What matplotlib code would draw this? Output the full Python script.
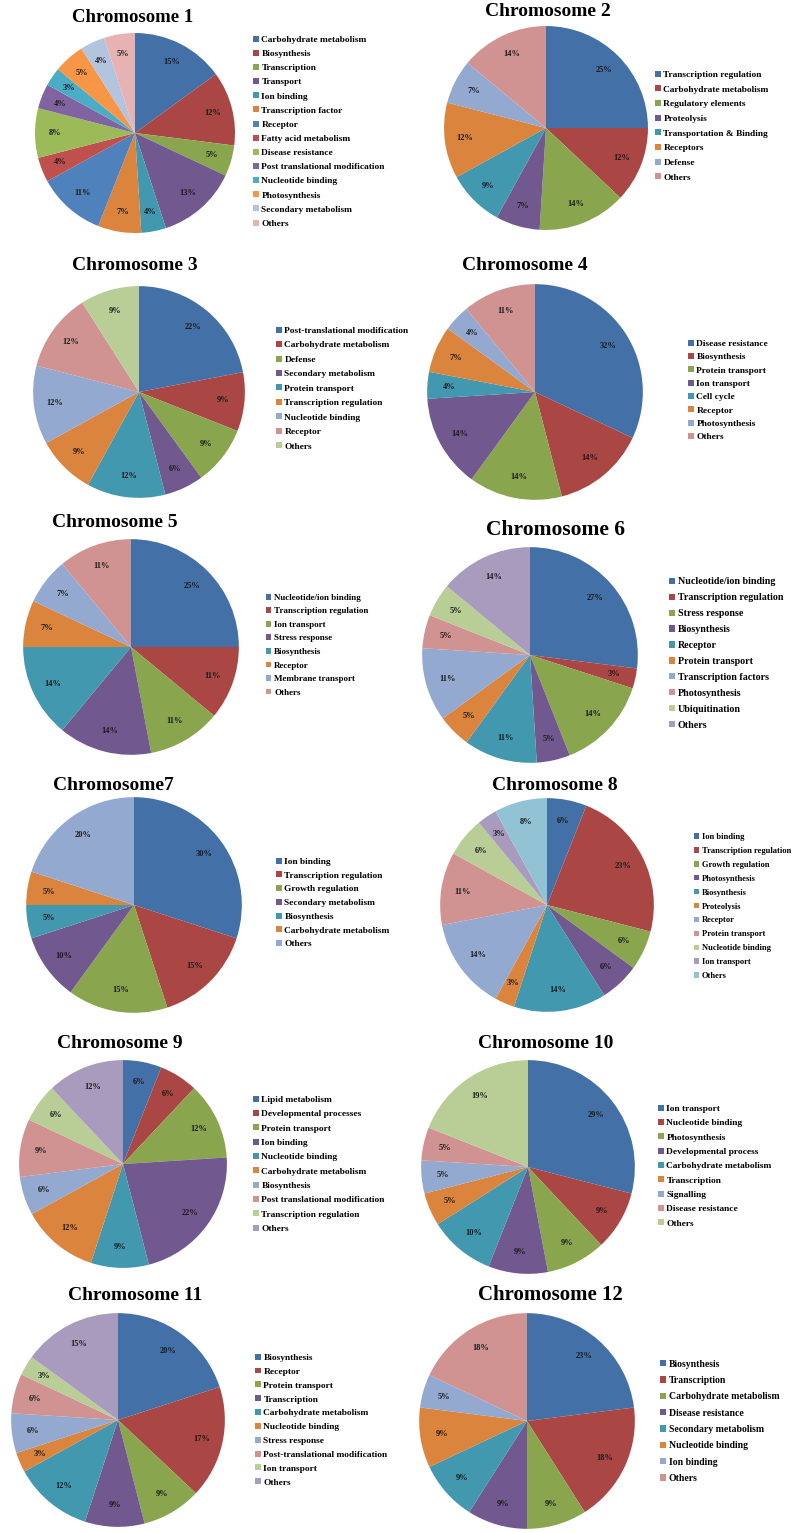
import matplotlib as mpl
import matplotlib.pyplot as plt

mpl.rcParams.update({
    "font.family": ["Liberation Serif", "DejaVu Serif"],
    "font.weight": "bold",
})

W, H = 793, 1533

# ---- data -------------------------------------------------------------
chr1_labels = ["Carbohydrate metabolism", "Biosynthesis", "Transcription", "Transport",
               "Ion binding", "Transcription factor", "Receptor", "Fatty acid metabolism",
               "Disease resistance", "Post translational modification", "Nucleotide binding",
               "Photosynthesis", "Secondary metabolism", "Others"]
chr1_values = [15, 12, 5, 13, 4, 7, 11, 4, 8, 4, 3, 5, 4, 5]

chr2_labels = ["Transcription regulation", "Carbohydrate metabolism", "Regulatory elements",
               "Proteolysis", "Transportation & Binding", "Receptors", "Defense", "Others"]
chr2_values = [25, 12, 14, 7, 9, 12, 7, 14]

chr3_labels = ["Post-translational modification", "Carbohydrate metabolism", "Defense",
               "Secondary metabolism", "Protein transport", "Transcription regulation",
               "Nucleotide binding", "Receptor", "Others"]
chr3_values = [22, 9, 9, 6, 12, 9, 12, 12, 9]

chr4_labels = ["Disease resistance", "Biosynthesis", "Protein transport", "Ion transport",
               "Cell cycle", "Receptor", "Photosynthesis", "Others"]
chr4_values = [32, 14, 14, 14, 4, 7, 4, 11]

chr5_labels = ["Nucleotide/ion binding", "Transcription regulation", "Ion transport",
               "Stress response", "Biosynthesis", "Receptor", "Membrane transport", "Others"]
chr5_values = [25, 11, 11, 14, 14, 7, 7, 11]

chr6_labels = ["Nucleotide/ion binding", "Transcription regulation", "Stress response",
               "Biosynthesis", "Receptor", "Protein transport", "Transcription factors",
               "Photosynthesis", "Ubiquitination", "Others"]
chr6_values = [27, 3, 14, 5, 11, 5, 11, 5, 5, 14]

chr7_labels = ["Ion binding", "Transcription regulation", "Growth regulation",
               "Secondary metabolism", "Biosynthesis", "Carbohydrate metabolism", "Others"]
chr7_values = [30, 15, 15, 10, 5, 5, 20]

chr8_labels = ["Ion binding", "Transcription regulation", "Growth regulation", "Photosynthesis",
               "Biosynthesis", "Proteolysis", "Receptor", "Protein transport",
               "Nucleotide binding", "Ion transport", "Others"]
chr8_values = [6, 23, 6, 6, 14, 3, 14, 11, 6, 3, 8]

chr9_labels = ["Lipid metabolism", "Developmental processes", "Protein transport", "Ion binding",
               "Nucleotide binding", "Carbohydrate metabolism", "Biosynthesis",
               "Post translational modification", "Transcription regulation", "Others"]
chr9_values = [6, 6, 12, 22, 9, 12, 6, 9, 6, 12]

chr10_labels = ["Ion transport", "Nucleotide binding", "Photosynthesis", "Developmental process",
                "Carbohydrate metabolism", "Transcription", "Signalling", "Disease resistance",
                "Others"]
chr10_values = [29, 9, 9, 9, 10, 5, 5, 5, 19]

chr11_labels = ["Biosynthesis", "Receptor", "Protein transport", "Transcription",
                "Carbohydrate metabolism", "Nucleotide binding", "Stress response",
                "Post-translational modification", "Ion transport", "Others"]
chr11_values = [20, 17, 9, 9, 12, 3, 6, 6, 3, 15]

chr12_labels = ["Biosynthesis", "Transcription", "Carbohydrate metabolism", "Disease resistance",
                "Secondary metabolism", "Nucleotide binding", "Ion binding", "Others"]
chr12_values = [23, 18, 9, 9, 9, 9, 5, 18]

titles = ["Chromosome 1", "Chromosome 2", "Chromosome 3", "Chromosome 4", "Chromosome 5",
          "Chromosome 6", "Chromosome7", "Chromosome 8", "Chromosome 9", "Chromosome 10",
          "Chromosome 11", "Chromosome 12"]

# ---- styling ------------------------------------------------------------
palette = ["#4470A8", "#AA4643", "#89A54E", "#71588F", "#4198AF", "#DB843D",
           "#93A9CF", "#D19392", "#B9CD96", "#A99BBD", "#92C3D5"]
palette_chr1 = ["#4470A8", "#AA4643", "#89A54E", "#71588F", "#4198AF", "#DB843D",
                "#4F81BD", "#C0504D", "#9BBB59", "#8064A2", "#4BACC6", "#F79646",
                "#B3C4DE", "#E6B3B2"]

panels = [
    (chr1_labels, chr1_values),
    (chr2_labels, chr2_values),
    (chr3_labels, chr3_values),
    (chr4_labels, chr4_values),
    (chr5_labels, chr5_values),
    (chr6_labels, chr6_values),
    (chr7_labels, chr7_values),
    (chr8_labels, chr8_values),
    (chr9_labels, chr9_values),
    (chr10_labels, chr10_values),
    (chr11_labels, chr11_values),
    (chr12_labels, chr12_values),
]

# layout in pixels: pie centre x, y, radius, title x, y, title pt,
# legend x, first legend row y, row spacing px, legend font pt
layout = [
    (135, 133, 102, 133, 18, 13.5, 253, 40, 14.4, 6.75),
    (546, 128, 104, 548, 12, 14.0, 655, 75, 14.9, 6.75),
    (139, 392, 108, 135, 265, 14.0, 276, 331, 14.7, 6.75),
    (535, 392, 110, 525, 265, 14.0, 688, 344, 13.6, 6.75),
    (131, 647, 110, 115, 523, 14.0, 266, 598, 13.7, 6.5),
    (530, 655, 110, 555, 530, 15.5, 669, 582, 16.0, 7.2),
    (134, 905, 110, 113, 785, 14.0, 276, 862, 14.0, 6.75),
    (547, 905, 109, 555, 785, 14.0, 694, 837, 13.6, 6.1),
    (123, 1164, 106, 120, 1043, 14.0, 253, 1100, 14.6, 6.75),
    (528, 1167, 109, 546, 1043, 14.0, 658, 1109, 14.6, 6.75),
    (118, 1420, 109, 135, 1295, 14.0, 255, 1358, 14.1, 6.75),
    (527, 1421, 110, 550, 1295, 15.0, 660, 1364, 16.2, 7.0),
]

fig = plt.figure(figsize=(W / 100, H / 100), dpi=100)

for i, ((labels, values), title, lay) in enumerate(zip(panels, titles, layout)):
    cx, cy, r, tx, ty, tfs, lx, ly, sp, fs = lay
    ax = fig.add_axes([(cx - r) / W, 1 - (cy + r) / H, 2 * r / W, 2 * r / H])
    cols = palette_chr1 if i == 0 else palette[:len(values)]
    wedges, texts = ax.pie(values, colors=cols, startangle=90, counterclock=False,
                           radius=1, labels=[f"{v}%" for v in values],
                           labeldistance=0.8,
                           textprops=dict(fontsize=6, fontweight="bold", color="#1a1a1a",
                                          ha="center", va="center"),
                           wedgeprops=dict(linewidth=0))
    for t in texts:
        t.set_horizontalalignment("center")
    ax.set_xlim(-1.02, 1.02)
    ax.set_ylim(-1.02, 1.02)
    ax.axis("off")

    fig.text(tx / W, 1 - ty / H, title, ha="center", va="center",
             fontsize=tfs, fontweight="bold")

    fs_px = fs * 100 / 72
    top = ly - 0.46 * fs_px
    fig.legend(wedges, labels, loc="upper left",
               bbox_to_anchor=(lx / W, 1 - top / H), bbox_transform=fig.transFigure,
               frameon=False, fontsize=fs, handlelength=0.6, handleheight=0.6,
               handletextpad=0.3, borderpad=0, borderaxespad=0,
               labelspacing=(sp - 0.91 * fs_px) / fs_px)

fig.savefig("out.png", dpi=100)
